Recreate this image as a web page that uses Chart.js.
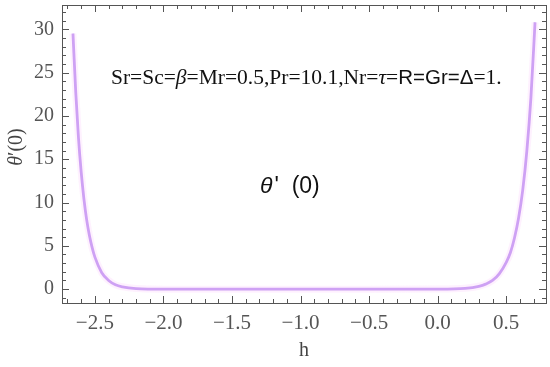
<!doctype html>
<html lang="en">
  <head>
    <meta charset="utf-8">
    <title>theta'(0) vs h</title>
    <script src="https://cdn.jsdelivr.net/npm/chart.js"></script>
    <style>
        html, body { margin: 0; padding: 0; background: #fff; overflow: hidden; }
        #wrap { width: 550px; height: 367px; position: relative; }
    </style>
  </head>
  <body>
    <div id="wrap"><canvas id="chart"></canvas></div>

    <script>
        // values
        const hValues = [-2.66, -2.64, -2.62, -2.60, -2.58, -2.56, -2.54, -2.52, -2.50, -2.45, -2.40, -2.35, -2.30, -2.20, -2.00, -1.50, -1.00, -0.50, 0.00, 0.20, 0.30, 0.35, 0.40, 0.45, 0.50, 0.53, 0.56, 0.59, 0.62, 0.65, 0.68, 0.71]
        const thetaValues = [29.5, 22.8, 17.5, 13.5, 10.4, 8.0, 6.2, 4.8, 3.7, 1.9, 1.0, 0.5, 0.27, 0.07, 0.0, 0.0, 0.0, 0.0, 0.01, 0.1, 0.33, 0.58, 1.0, 1.8, 3.1, 4.2, 5.9, 8.2, 11.4, 15.9, 22.1, 30.8]

        const xTicks = [-2.5, -2.0, -1.5, -1.0, -0.5, 0.0, 0.5]
        const xTickLabels = ['\u22122.5', '\u22122.0', '\u22121.5', '\u22121.0', '\u22120.5', '0.0', '0.5']
        const yTicks = [0, 5, 10, 15, 20, 25, 30]
        const yTickLabels = ['0', '5', '10', '15', '20', '25', '30']

        const Points = hValues.map((h, i) => ({ x: h, y: thetaValues[i] }))

        // frame + inward major/minor ticks, Mathematica style
        const FramePlugin = {
            id: 'frame',
            afterDraw(chart) {
                const { ctx, chartArea: a, scales } = chart
                ctx.save()
                ctx.strokeStyle = '#555'
                ctx.lineWidth = 1
                ctx.strokeRect(a.left + 0.5, a.top + 0.5, a.right - a.left, a.bottom - a.top)

                const xs = scales.x, ys = scales.y
                for (let i = -28; i <= 8; i++) {
                    const v = i / 10
                    const px = Math.round(xs.getPixelForValue(v)) + 0.5
                    if (px <= a.left + 1 || px >= a.right - 1) continue
                    const len = (i % 5 === 0) ? 7 : 4
                    ctx.beginPath()
                    ctx.moveTo(px, a.bottom); ctx.lineTo(px, a.bottom - len)
                    ctx.moveTo(px, a.top); ctx.lineTo(px, a.top + len)
                    ctx.stroke()
                }
                for (let v = -1; v <= 32; v++) {
                    const py = Math.round(ys.getPixelForValue(v)) + 0.5
                    if (py <= a.top + 1 || py >= a.bottom - 1) continue
                    const len = (v % 5 === 0) ? 7 : 4
                    ctx.beginPath()
                    ctx.moveTo(a.left, py); ctx.lineTo(a.left + len, py)
                    ctx.moveTo(a.right, py); ctx.lineTo(a.right - len, py)
                    ctx.stroke()
                }
                ctx.restore()
            }
        }

        // text labels inside the plot
        const TextPlugin = {
            id: 'texts',
            afterDraw(chart) {
                const { ctx } = chart
                ctx.save()
                ctx.fillStyle = '#111'
                ctx.textBaseline = 'alphabetic'
                ctx.textAlign = 'left'
                const serif = '21.5px "Liberation Serif"'
                const serifIt = 'italic 21.5px "Liberation Serif"'
                const sans = '20.5px "Liberation Sans"'
                const parts = [
                    [serif, 'Sr=Sc='], [serifIt, '\u03b2'], [serif, '=Mr=0.5,Pr=10.1,Nr='],
                    [serifIt, '\u03c4'], [serif, '='], [sans, 'R=Gr=\u0394'], [serif, '=1.']
                ]
                let x = 111
                parts.forEach(([f, t]) => {
                    ctx.font = f
                    ctx.fillText(t, x, 84)
                    x += ctx.measureText(t).width
                })

                ctx.font = 'italic 23px "Liberation Sans"'
                ctx.fillText('\u03b8', 260, 193)
                let w = ctx.measureText('\u03b8').width
                ctx.font = '23px "Liberation Sans"'
                ctx.fillText("'  (0)", 262 + w, 193)

                // y axis title
                ctx.translate(22, 147)
                ctx.rotate(-Math.PI / 2)
                ctx.fillStyle = '#444'
                ctx.font = 'italic 20px "Liberation Serif"'
                const t1 = '\u03b8'
                const w1 = ctx.measureText(t1).width
                ctx.font = '20px "Liberation Serif"'
                const t2 = "\u2032(0)"
                const w2 = ctx.measureText(t2).width
                const sx = -(w1 + w2) / 2
                ctx.font = 'italic 20px "Liberation Serif"'
                ctx.fillText(t1, sx, 0)
                ctx.font = '20px "Liberation Serif"'
                ctx.fillText(t2, sx + w1, 0)
                ctx.restore()
            }
        }

        new Chart(document.getElementById('chart'), {
            type: 'line',
            data: {
                datasets: [
                    {
                        label: 'glow',
                        data: Points,
                        borderColor: 'rgba(252, 220, 252, 0.4)',
                        borderWidth: 7,
                        pointRadius: 0,
                        cubicInterpolationMode: 'monotone'
                    },
                    {
                        label: "theta'(0)",
                        data: Points,
                        borderColor: 'rgb(176, 122, 238)',
                        borderWidth: 2.8,
                        pointRadius: 0,
                        cubicInterpolationMode: 'monotone'
                    }
                ]
            },
            plugins: [FramePlugin, TextPlugin],
            options: {
                responsive: true,
                maintainAspectRatio: false,
                animation: false,
                layout: { padding: { top: 5, right: 4, left: 0, bottom: 0 } },
                plugins: {
                    legend: { display: false },
                    tooltip: { enabled: false }
                },
                scales: {
                    x: {
                        type: 'linear',
                        min: -2.74,
                        max: 0.79,
                        afterBuildTicks: (s) => { s.ticks = xTicks.map((v) => ({ value: v })) },
                        afterFit: (s) => { s.height = 64; s.paddingLeft = 0; s.paddingRight = 0 },
                        grid: { display: false, drawTicks: false },
                        border: { display: false },
                        ticks: {
                            padding: 8,
                            color: '#555',
                            font: { family: 'Liberation Serif', size: 21 },
                            callback: (v) => xTickLabels[xTicks.indexOf(v)] ?? ''
                        },
                        title: {
                            display: true,
                            text: 'h',
                            color: '#444',
                            font: { family: 'Liberation Serif', size: 20 },
                            padding: { top: 6 }
                        }
                    },
                    y: {
                        type: 'linear',
                        min: -1.6,
                        max: 32.8,
                        afterBuildTicks: (s) => { s.ticks = yTicks.map((v) => ({ value: v })) },
                        afterFit: (s) => { s.width = 62; s.paddingTop = 0; s.paddingBottom = 0 },
                        grid: { display: false, drawTicks: false },
                        border: { display: false },
                        ticks: {
                            padding: 8,
                            color: '#555',
                            font: { family: 'Liberation Serif', size: 20 },
                            callback: (v) => yTickLabels[yTicks.indexOf(v)] ?? ''
                        }
                    }
                }
            }
        });
    </script>
  </body>
</html>
